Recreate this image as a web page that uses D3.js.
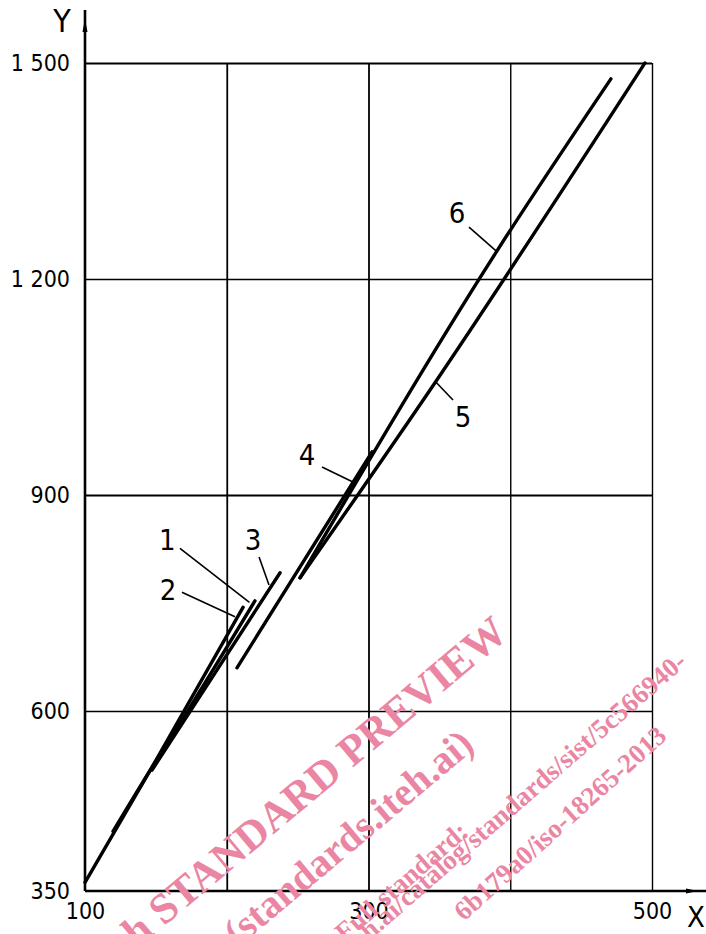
<!DOCTYPE html>
<html>
<head>
<meta charset="utf-8">
<script src="https://cdn.jsdelivr.net/npm/d3@7"></script>
<style>
  body { margin: 0; background: #fff; }
  svg { display: block; }
  .lbl { font-family: 'DejaVu Sans Condensed', 'DejaVu Sans', sans-serif; font-stretch: condensed; }
</style>
</head>
<body>
<svg id="drawing_region"></svg>
<script>
// axis ticks
const x_ticks = [100, 200, 300, 400, 500];
const x_labels = [100, 300, 500];
const y_ticks = [350, 600, 900, 1200, 1500];

// curves (x, y)
const line1 = [[119.8, 433], [147.3, 522], [172.7, 601], [219.9, 753]];
const line2 = [[100, 362], [147.3, 522], [211.5, 744]];
const line3 = [[147.3, 518], [237.6, 792]];
const line4 = [[207.2, 660], [302.5, 960]];
const line5 = [[251.7, 785], [346.9, 1056], [495, 1500]];
const line6 = [[251.7, 785], [390, 1237], [471, 1478]];

// callouts: number, text centre, leader start, leader end
const callout_names = ['1', '2', '3', '4', '5', '6'];
const callout_text = [[158, 838], [158.6, 768], [218.5, 837.5], [256.6, 955.6], [366.7, 1008], [362.4, 1292]];
const callout_from = [[167, 826], [168.4, 765], [222.8, 814], [267.2, 939], [359.6, 1032], [370.9, 1272]];
const callout_to = [[216, 751], [205.8, 731], [229.8, 775], [289, 918], [347, 1058], [390, 1239]];

// watermark text
const wm_lines = [
    'iTeh STANDARD PREVIEW',
    '(standards.iteh.ai)',
    'Full standard:',
    'https://standards.iteh.ai/catalog/standards/sist/5c566940-',
    '6b179a0/iso-18265-2013'
];

class CurveChart {

    constructor( config, curves ) {
        this.config = {
            parent: config.parent,
            width: config.width || 706,
            height: config.height || 934,
            margin: config.margin || {top:63, right:54, bottom:43, left:85}
        }
        this.curves = curves;
        this.init();
    }

    init() {
        let self = this;

        self.svg = d3.select( self.config.parent )
            .attr('width', self.config.width)
            .attr('height', self.config.height);

        self.chart = self.svg.append('g')
            .attr('transform', `translate(${self.config.margin.left}, ${self.config.margin.top})`);

        self.inner_width = self.config.width - self.config.margin.left - self.config.margin.right;
        self.inner_height = self.config.height - self.config.margin.top - self.config.margin.bottom;

        self.xscale = d3.scaleLinear()
            .domain([100, 500])
            .range([0, self.inner_width]);

        self.yscale = d3.scaleLinear()
            .domain([350, 1500])
            .range([self.inner_height, 0]);

        const fmt = d3.formatLocale({decimal: '.', thousands: ' ', grouping: [3], currency: ['', '']}).format(',');

        self.xaxis = d3.axisBottom( self.xscale )
            .tickValues(x_ticks)
            .tickSize(-self.inner_height)
            .tickPadding(12)
            .tickFormat(d => x_labels.includes(d) ? d : '');

        self.yaxis = d3.axisLeft( self.yscale )
            .tickValues(y_ticks)
            .tickSize(-self.inner_width)
            .tickPadding(15)
            .tickFormat(fmt);

        self.xaxis_group = self.chart.append('g')
            .attr('transform', `translate(0, ${self.inner_height})`);
        self.yaxis_group = self.chart.append('g');
        self.curve_group = self.chart.append('g');
        self.callout_group = self.chart.append('g');
    }

    render() {
        let self = this;

        self.xaxis_group.call( self.xaxis );
        self.yaxis_group.call( self.yaxis );

        [self.xaxis_group, self.yaxis_group].forEach(g => {
            g.select('.domain').remove();
            g.selectAll('.tick line').attr('stroke', '#000').attr('stroke-width', 1.4);
            g.selectAll('.tick text')
                .attr('class', 'lbl')
                .attr('fill', '#000')
                .attr('font-size', 23);
        });
        self.yaxis_group.selectAll('.tick').filter(d => d === 350).select('line').remove();
        self.yaxis_group.selectAll('.tick').filter(d => d === 1500 || d === 900).select('line').attr('stroke-width', 2);
        self.xaxis_group.selectAll('.tick').filter(d => d === 200 || d === 300).select('line').attr('stroke-width', 1.8);
        self.xaxis_group.selectAll('.tick').filter(d => d === 100).select('line').remove();

        // axis lines with arrows
        const ax = self.chart.append('g');
        ax.append('line')
            .attr('x1', 0).attr('x2', 0)
            .attr('y1', self.inner_height).attr('y2', -53)
            .attr('stroke', '#000').attr('stroke-width', 2.6);
        ax.append('path')
            .attr('d', 'M0,-44 L-2.5,-31 L2.5,-31 Z')
            .attr('fill', '#000');
        ax.append('line')
            .attr('x1', 0).attr('x2', self.config.width - self.config.margin.left)
            .attr('y1', self.inner_height).attr('y2', self.inner_height)
            .attr('stroke', '#000').attr('stroke-width', 2.6);
        ax.append('path')
            .attr('d', `M${self.xscale(500) + 46},${self.inner_height} l-12,-2.5 l0,5 Z`)
            .attr('fill', '#000');

        ax.append('text')
            .attr('class', 'lbl')
            .attr('x', -23).attr('y', -31)
            .attr('text-anchor', 'middle')
            .attr('font-size', 32)
            .text('Y');
        ax.append('text')
            .attr('class', 'lbl')
            .attr('x', self.xscale(500) + 44).attr('y', self.inner_height + 36)
            .attr('text-anchor', 'middle')
            .attr('font-size', 29)
            .text('X');

        const line = d3.line()
            .x(d => self.xscale(d[0]))
            .y(d => self.yscale(d[1]))
            .curve(d3.curveMonotoneX);

        self.curve_group.selectAll('path')
            .data(self.curves)
            .join('path')
            .attr('d', line)
            .attr('fill', 'none')
            .attr('stroke', '#000')
            .attr('stroke-width', 3.4)
            .attr('stroke-linecap', 'round');

        self.callout_group.selectAll('line')
            .data(callout_names)
            .join('line')
            .attr('x1', (d, i) => self.xscale(callout_from[i][0]))
            .attr('y1', (d, i) => self.yscale(callout_from[i][1]))
            .attr('x2', (d, i) => self.xscale(callout_to[i][0]))
            .attr('y2', (d, i) => self.yscale(callout_to[i][1]))
            .attr('stroke', '#000')
            .attr('stroke-width', 1.6);

        self.callout_group.selectAll('text')
            .data(callout_names)
            .join('text')
            .attr('class', 'lbl')
            .attr('x', (d, i) => self.xscale(callout_text[i][0]))
            .attr('y', (d, i) => self.yscale(callout_text[i][1]))
            .attr('text-anchor', 'middle')
            .attr('dominant-baseline', 'central')
            .attr('font-size', 29)
            .text(d => d);

        // pink watermark on top
        const wm_end = [[510, 636], [476, 748], [470, 834], [688, 664], [668, 738]];
        const wm_size = [43, 40, 27, 27, 27];
        const wm_angle = [-40, -40, -41, -41, -42];
        self.svg.append('g').selectAll('text')
            .data(wm_lines)
            .join('text')
            .attr('transform', (d, i) => `translate(${wm_end[i][0]}, ${wm_end[i][1]}) rotate(${wm_angle[i]})`)
            .attr('text-anchor', 'end')
            .attr('font-family', "'Liberation Serif', serif")
            .attr('font-weight', 'bold')
            .attr('font-size', (d, i) => wm_size[i])
            .attr('fill', '#ea86a3')
            .text(d => d);
    }
}

const chart = new CurveChart({
    parent: '#drawing_region',
    width: 706,
    height: 934,
    margin: {top:63, right:54, bottom:43, left:85}
}, [line1, line2, line3, line4, line5, line6]);
chart.render();
</script>
</body>
</html>
